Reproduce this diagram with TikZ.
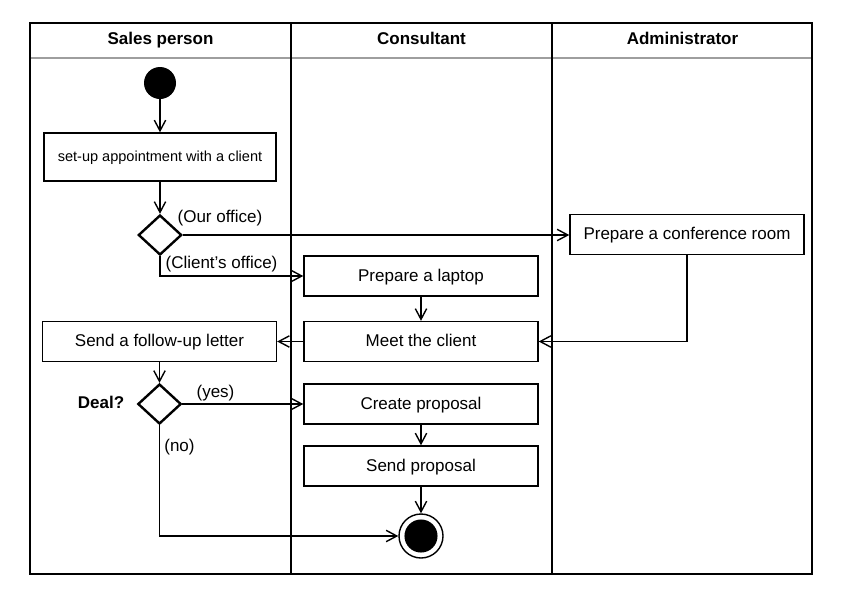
\documentclass[tikz,border=0pt]{standalone}
\usepackage{fontspec}
\setmainfont{Liberation Sans}
\usetikzlibrary{arrows.meta,positioning,calc,shapes.geometric}

\begin{document}
\begin{tikzpicture}[x=0.75pt,y=-0.75pt,
  act/.style={draw,line width=1.05pt,minimum width=175.5pt,minimum height=30pt,inner sep=0pt,text height=9.1pt,text depth=1.5pt,font=\fontsize{12.75}{15}\selectfont},
  decide/.style={diamond,draw,line width=1.8pt,minimum width=32.5pt,minimum height=30pt,inner sep=0pt},
  txt/.style={inner sep=0pt,text height=9.1pt,text depth=1.5pt,font=\fontsize{12.75}{15}\selectfont},
  head/.style={txt,font=\fontsize{12.75}{15}\selectfont\bfseries},
  flow/.style={line width=1.05pt,-{Straight Barb[length=8pt,width=8.5pt,line width=1.05pt]}},
  lane/.style={line width=1.1pt}]
\useasboundingbox (0,0) rectangle (846,593);
% swimlanes
\draw[line width=1.3pt,black!38] (30,58) -- (812,58);
\draw[lane] (30,23) rectangle (812,574);
\foreach \x in {291,552}
  \draw[lane] (\x,23) -- (\x,574);
\foreach \name [count=\i] in {Sales person,Consultant,Administrator}
  \node[head] (lane\i) at ({30+130.5*(2*\i-1)},39) {\name};
% sales person
\node[circle,fill=black,minimum size=24pt,inner sep=0pt] (start) at (160,83) {};
\node[act,minimum width=174pt,minimum height=36pt,text height=7.8pt,font=\fontsize{10.9}{13}\selectfont] (setup) at (160,157) {set-up appointment with a client};
\node[decide] (dec1) at (160,235) {};
\node[act] (letter) at (159.5,341.5) {Send a follow-up letter};
\node[decide] (dec2) at (159.5,404) {};
\node[head] (deal) at (101,403) {Deal?};
% consultant
\node[act] (laptop) at (421,276) {Prepare a laptop};
\node[act] (meet) at (421,341.5) {Meet the client};
\node[act] (create) at (421,404) {Create proposal};
\node[act] (send) at (421,466) {Send proposal};
\node[circle,draw,line width=1.05pt,minimum size=33pt,inner sep=0pt,
  path picture={\fill (path picture bounding box.center) circle (12.4pt);}] (end) at (421,536) {};
% administrator
\node[act] (conf) at (687,234.5) {Prepare a conference room};
% guards
\node[txt] (our) at (220,217) {(Our office)};
\node[txt] (client) at (221.5,263) {(Client's office)};
\node[txt] (yes) at (215.5,392) {(yes)};
\node[txt] (no) at (179.5,446) {(no)};
% flows
\draw[flow] (start) -- (setup);
\draw[flow] (setup) -- (dec1);
\draw[flow] (dec1.east) -- (dec1.east -| conf.west);
\draw[flow] (dec1.south) |- (laptop.west);
\draw[flow] (laptop) -- (meet);
\draw[flow] (conf.south) |- (meet.east);
\draw[flow] (meet) -- (letter);
\draw[flow] (letter) -- (dec2);
\draw[flow] (dec2) -- (create);
\draw[flow] (create) -- (send);
\draw[flow] (send) -- (end);
\draw[flow] (dec2.south) |- (end.west);
\end{tikzpicture}
\end{document}
